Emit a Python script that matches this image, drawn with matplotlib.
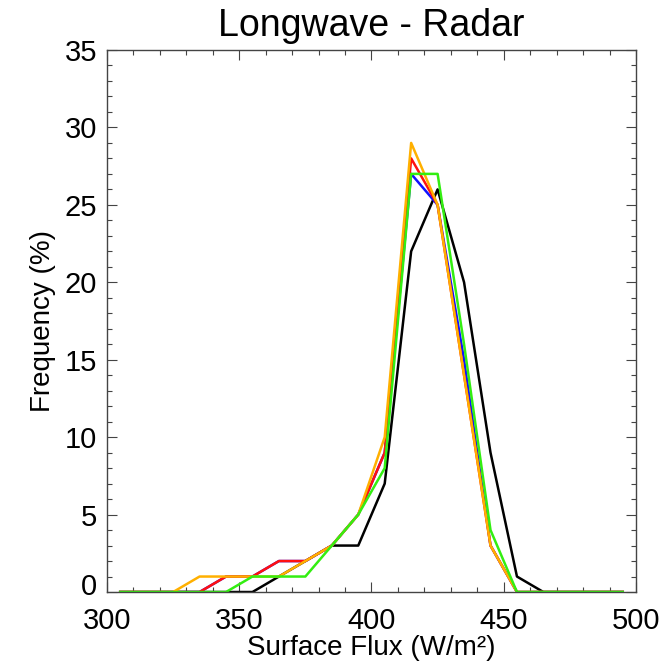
import matplotlib
matplotlib.use("Agg")
import matplotlib.pyplot as plt
from matplotlib.ticker import MultipleLocator
from matplotlib.transforms import ScaledTranslation

plt.rcParams['font.family'] = ['Liberation Sans', 'DejaVu Sans']

flux = [305, 315, 325, 335, 345, 355, 365, 375, 385, 395,
        405, 415, 425, 435, 445, 455, 465, 475, 485, 495]

black  = [0, 0, 0, 0, 0, 0, 1, 2, 3, 3, 7, 22, 26, 20, 9, 1, 0, 0, 0, 0]
blue   = [0, 0, 0, 0, 1, 1, 2, 2, 3, 5, 9, 27, 25, 15, 3, 0, 0, 0, 0, 0]
red    = [0, 0, 0, 0, 1, 1, 2, 2, 3, 5, 9, 28, 25, 14, 3, 0, 0, 0, 0, 0]
orange = [0, 0, 0, 1, 1, 1, 1, 2, 3, 5, 10, 29, 25, 14, 3, 0, 0, 0, 0, 0]
green  = [0, 0, 0, 0, 0, 1, 1, 1, 3, 5, 8, 27, 27, 16, 4, 0, 0, 0, 0, 0]

series = [(black, 'black'), (blue, '#1010ff'), (red, '#ff1010'),
          (orange, '#ffb000'), (green, '#33ee11')]

fig = plt.figure(figsize=(6.62, 6.64), dpi=100)
ax = fig.add_axes([0.1616, 0.1084, 0.7991, 0.8163])

for vals, col in series:
    ax.plot(flux, vals, color=col, lw=1.8)

ax.set_xlim(300, 500)
ax.set_ylim(0, 35)
ax.xaxis.set_major_locator(MultipleLocator(50))
ax.xaxis.set_minor_locator(MultipleLocator(10))
ax.yaxis.set_major_locator(MultipleLocator(5))
ax.yaxis.set_minor_locator(MultipleLocator(1))
ax.tick_params(which='both', direction='in', top=True, right=True,
               color='#444444', width=0.8)
ax.tick_params(which='major', length=7.2, labelsize=21)
ax.tick_params(axis='x', which='major', pad=11)
ax.tick_params(axis='y', which='major', pad=7)
ax.tick_params(which='minor', length=3.6)
for s in ax.spines.values():
    s.set_color('#444444')
    s.set_linewidth(1.0)

ax.set_title('Longwave - Radar', fontsize=27, pad=10)
ax.set_xlabel('Surface Flux (W/m²)', fontsize=20, labelpad=0)
ax.set_ylabel('Frequency (%)', fontsize=20, labelpad=6)

# nudge the "0" y tick label up slightly, as in the reference
fig.canvas.draw()
for lab in ax.yaxis.get_majorticklabels():
    if lab.get_text() == '0':
        lab.set_transform(lab.get_transform() +
                          ScaledTranslation(0, 0.08, fig.dpi_scale_trans))

fig.savefig('out.png', dpi=100)
